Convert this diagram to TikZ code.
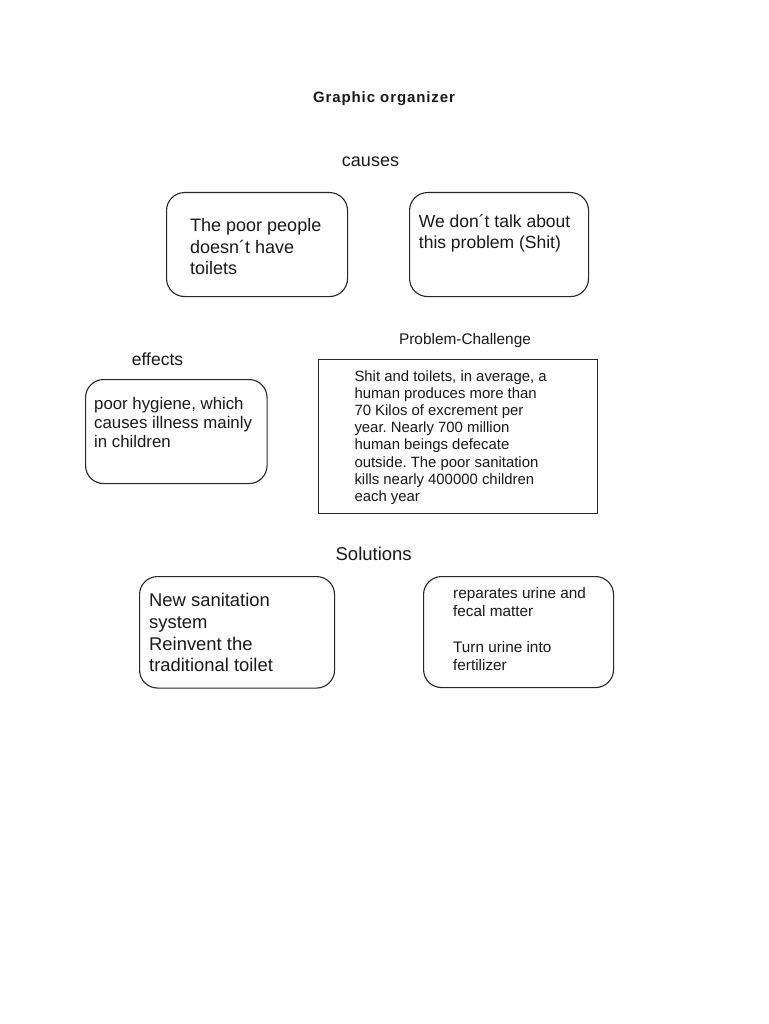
\documentclass[tikz,border=0pt]{standalone}
\usepackage{fontspec}
\setmainfont{Liberation Sans}
\frenchspacing
\newcommand{\txtblock}[3]{\fontsize{#1}{#2}\selectfont\renewcommand{\arraystretch}{1}\begin{tabular}[t]{@{}l@{}}#3\end{tabular}}
\tikzset{
  rbox/.style={draw=black!85, line width=1.1pt, rounded corners=18pt, anchor=north west, inner sep=0pt, fill=white},
  sbox/.style={draw=black!85, line width=1.1pt, anchor=north west, inner sep=0pt},
  blocktext/.style={anchor=base west, inner sep=0pt, text=black!90},
  heading/.style={anchor=base, inner sep=0pt, text=black!90}
}
\begin{document}
\begin{tikzpicture}[x=1pt,y=-1pt]
\fill[white] (0,0) rectangle (768,1024);
\useasboundingbox (0,0) rectangle (768,1024);

% headings
\node[heading, font=\fontsize{15}{18}\selectfont\bfseries\addfontfeatures{LetterSpace=6}] (title) at (384,102.5) {Graphic organizer};
\node[heading, font=\fontsize{18}{21}\selectfont] (causes) at (370.5,167) {causes};
\node[heading, font=\fontsize{15.4}{18}\selectfont] (problem) at (465,344.3) {Problem-Challenge};
\node[heading, font=\fontsize{17.5}{21}\selectfont] (effects) at (157.5,365) {effects};
\node[heading, font=\fontsize{18.5}{22}\selectfont] (solutions) at (373.7,560.7) {Solutions};

% boxes
\node[rbox, minimum width=181pt, minimum height=104pt] (cause1) at (166,192) {};
\node[rbox, minimum width=179pt, minimum height=104pt] (cause2) at (409,192) {};
\node[rbox, minimum width=181.5pt, minimum height=104pt] (effect1) at (85,379) {};
\node[sbox, minimum width=279.5pt, minimum height=154.5pt] (probbox) at (317.5,358.5) {};
\node[rbox, minimum width=195pt, minimum height=111.5pt] (sol1) at (139,576) {};
\node[rbox, minimum width=190pt, minimum height=111pt] (sol2) at (423,576) {};

% texts
\node[blocktext] (cause1t) at (190,232) {\txtblock{18}{21.5}{The poor people\\doesn´t have\\toilets}};
\node[blocktext] (cause2t) at (418.7,227.7) {\txtblock{17.5}{20.7}{We don´t talk about\\this problem (Shit)}};
\node[blocktext] (effect1t) at (94,409.3) {\txtblock{16.8}{19.2}{poor hygiene, which\\causes illness mainly\\in children}};
\node[blocktext] (probt) at (354.3,381) {\txtblock{14.9}{17.2}{Shit and toilets, in average, a\\human produces more than\\70 Kilos of excrement per\\year. Nearly 700 million\\human beings defecate\\outside. The poor sanitation\\kills nearly 400000 children\\each year}};
\node[blocktext] (sol1t) at (149,606.7) {\txtblock{18.4}{21.7}{New sanitation\\system\\Reinvent the\\traditional toilet}};
\node[blocktext] (sol2t) at (453,598.3) {\txtblock{15.3}{18}{reparates urine and\\fecal matter\\ \\Turn urine into\\fertilizer}};
\end{tikzpicture}
\end{document}
